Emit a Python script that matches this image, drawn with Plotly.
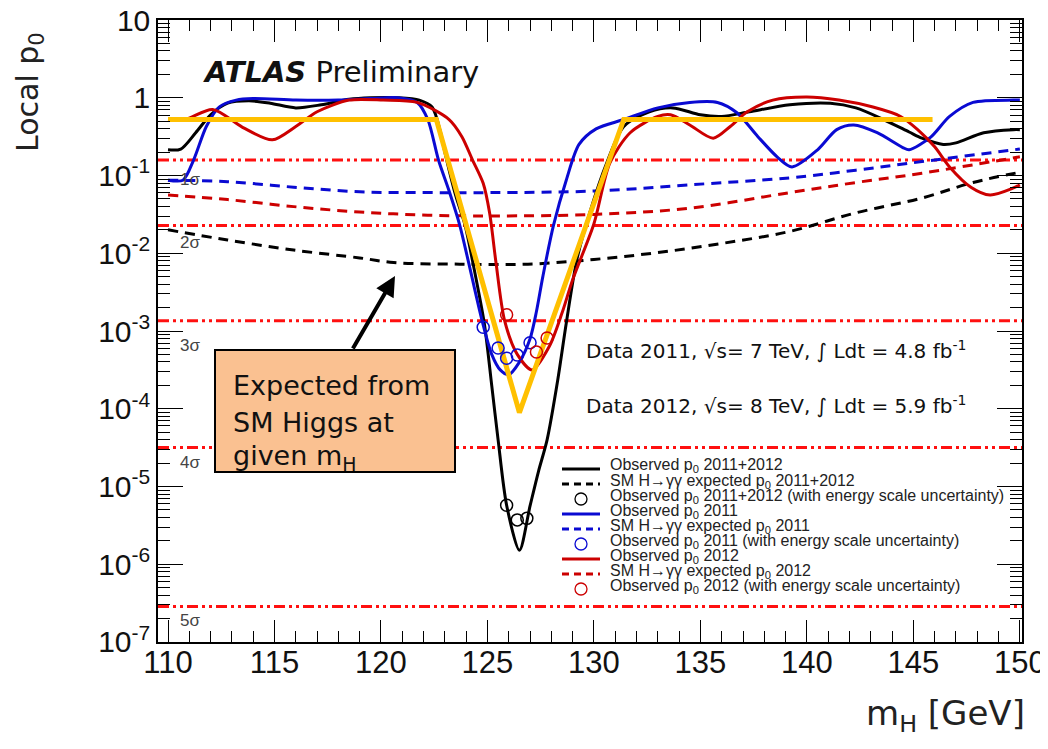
import plotly.graph_objects as go

# ---------------- data ----------------
mass_obs_comb = [110.0, 110.6, 111.3, 112.0, 112.8, 113.8, 114.8, 116.0, 117.2, 118.5, 119.5, 120.8,
                 121.8, 122.4, 122.8, 123.0, 123.5, 123.95, 124.3, 124.85, 125.2, 125.5, 125.9, 126.5,
                 127.0, 127.4, 127.8, 128.3, 128.7, 129.2, 129.8, 130.6, 131.4, 132.6, 133.7, 135.0,
                 136.0, 137.3, 139.2, 141.1, 142.3, 143.6, 144.8, 145.4, 146.4, 147.0, 148.3, 149.7, 150.0]
p0_obs_comb = [0.214, 0.219, 0.355, 0.603, 0.851, 0.912, 0.851, 0.741, 0.813, 0.955, 1.0, 1.0,
               0.933, 0.759, 0.355, 0.200, 0.0562, 0.0229, 7.94e-3, 1.26e-3, 2.0e-4, 3.98e-5, 5.75e-6, 1.51e-6,
               5.62e-6, 1.58e-5, 3.98e-5, 2.34e-4, 1.26e-3, 8.32e-3, 0.0331, 0.145, 0.427, 0.661, 0.741, 0.603,
               0.575, 0.661, 0.813, 0.851, 0.741, 0.525, 0.363, 0.302, 0.251, 0.263, 0.355, 0.389, 0.389]

mass_obs_2011 = [110.0, 110.7, 111.2, 111.8, 112.4, 113.2, 114.0, 116.0, 118.0, 119.5, 120.8, 121.7,
                 122.2, 122.7, 123.2, 123.7, 124.1, 124.75, 125.2, 125.6, 126.0, 126.5, 127.0, 127.3,
                 127.6, 128.1, 128.7, 129.3, 130.1, 131.4, 133.0, 134.5, 135.8, 136.7, 137.7, 138.6,
                 139.3, 140.5, 141.4, 142.2, 143.3, 144.5, 144.8, 145.8, 146.7, 147.8, 149.7, 150.0]
p0_obs_2011 = [0.0871, 0.0871, 0.158, 0.427, 0.759, 0.933, 0.977, 0.933, 0.933, 0.977, 1.0, 0.871,
               0.525, 0.158, 0.0631, 0.0229, 7.94e-3, 1.35e-3, 5.01e-4, 3.16e-4, 2.75e-4, 3.98e-4, 7.94e-4, 1.78e-3,
               5.01e-3, 0.0229, 0.0871, 0.251, 0.398, 0.525, 0.741, 0.871, 0.871, 0.646, 0.316, 0.174,
               0.129, 0.214, 0.389, 0.447, 0.355, 0.229, 0.214, 0.309, 0.575, 0.871, 0.933, 0.933]

mass_obs_2012 = [110.0, 110.8, 112.1, 113.5, 114.9, 116.0, 117.0, 118.5, 120.1, 121.7, 123.2, 123.8,
                 124.3, 124.8, 125.1, 125.4, 125.8, 126.4, 127.1, 127.9, 128.5, 129.0, 130.0, 130.75,
                 131.7, 133.0, 133.6, 134.5, 135.6, 136.4, 137.2, 138.4, 140.0, 141.5, 143.1, 144.4,
                 145.2, 146.0, 146.7, 147.7, 148.6, 149.7, 150.0]
p0_obs_2012 = [0.525, 0.525, 0.708, 0.417, 0.288, 0.427, 0.661, 0.933, 0.933, 0.871, 0.525, 0.316,
               0.158, 0.0794, 0.0331, 7.59e-3, 1.38e-3, 5.01e-4, 3.16e-4, 6.31e-4, 1.70e-3, 4.57e-3, 0.024, 0.145,
               0.355, 0.575, 0.603, 0.447, 0.302, 0.427, 0.661, 0.933, 1.02, 0.933, 0.759, 0.575,
               0.389, 0.234, 0.129, 0.0708, 0.0562, 0.0692, 0.0759]

mass_exp = [110.0, 112.8, 115.9, 119.0, 120.6, 123.7, 126.9, 130.0, 133.0, 136.1, 139.2, 142.3, 145.4, 147.8, 150.0]
p0_exp_comb = [0.0200, 0.0148, 0.0110, 8.71e-3, 7.59e-3, 7.24e-3, 7.24e-3, 8.32e-3, 0.0102, 0.0135,
               0.0191, 0.0331, 0.0513, 0.0813, 0.110]

mass_exp_y = [110.0, 112.8, 115.9, 119.0, 122.2, 125.3, 130.0, 134.5, 139.2, 142.3, 145.4, 150.0]
p0_exp_2011 = [0.0871, 0.0832, 0.0708, 0.0617, 0.0603, 0.0603, 0.0631, 0.0759, 0.0933, 0.117, 0.151, 0.219]
p0_exp_2012 = [0.0562, 0.0490, 0.0398, 0.0339, 0.0309, 0.0302, 0.0316, 0.0380, 0.0603, 0.0813, 0.107, 0.174]

mass_esu_comb = [125.9, 126.4, 126.85]
p0_esu_comb = [5.75e-6, 3.72e-6, 3.89e-6]
mass_esu_2011 = [124.8, 125.5, 125.9, 126.4, 127.0]
p0_esu_2011 = [1.12e-3, 6.03e-4, 4.47e-4, 4.90e-4, 7.08e-4]
mass_esu_2012 = [125.9, 127.3, 127.8]
p0_esu_2012 = [1.62e-3, 5.37e-4, 8.13e-4]

mass_sm_sketch = [110.0, 122.6, 126.5, 131.4, 145.9]
p0_sm_sketch = [0.525, 0.525, 8.9e-5, 0.525, 0.525]

sigma_labels = ["1σ", "2σ", "3σ", "4σ", "5σ"]
sigma_p0 = [0.1587, 0.02275, 1.35e-3, 3.17e-5, 2.87e-7]

x_ticks = [110, 115, 120, 125, 130, 135, 140, 145, 150]
y_exponents = [-7, -6, -5, -4, -3, -2, -1, 0, 1]

legend_labels = [
    "Observed p<sub>0</sub> 2011+2012",
    "SM H→γγ expected p<sub>0</sub> 2011+2012",
    "Observed p<sub>0</sub> 2011+2012 (with energy scale uncertainty)",
    "Observed p<sub>0</sub> 2011",
    "SM H→γγ expected p<sub>0</sub> 2011",
    "Observed p<sub>0</sub> 2011 (with energy scale uncertainty)",
    "Observed p<sub>0</sub> 2012",
    "SM H→γγ expected p<sub>0</sub> 2012",
    "Observed p<sub>0</sub> 2012 (with energy scale uncertainty)",
]

# ---------------- style ----------------
# page body has an 8px offset; the plot frame should land at x 158..1022, y 20..642 on screen
OFF = 8
W, H = 1048 - OFF, 749 - OFF
ML, MR, MT, MB = 158 - OFF, W - (1022 - OFF), 20 - OFF, H - (642 - OFF)
PW, PH = W - ML - MR, H - MT - MB
X_RANGE = [109.53, 150.1]
Y_RANGE = [-7.0002, 1.0002]
BLACK, BLUE, RED, SIGRED, YELLOW = "#000000", "#0a0ad2", "#cc0000", "#ff1010", "#ffc000"
FONT = "Liberation Sans, Arial, sans-serif"
WIDE = "DejaVu Sans, sans-serif"


def px(x):
    return (x - OFF - ML) / PW


def py(y):
    return (H - MB - (y - OFF)) / PH


fig = go.Figure()

# sigma reference lines
for p in sigma_p0:
    fig.add_trace(go.Scatter(x=X_RANGE, y=[p, p], mode="lines",
                             line=dict(color=SIGRED, width=3, dash="11px,4px,3px,4px,3px,4px"),
                             hoverinfo="skip", showlegend=False))

dash_exp = "10px,7px"
fig.add_trace(go.Scatter(x=mass_exp_y, y=p0_exp_2011, mode="lines",
                         line=dict(color=BLUE, width=3, dash=dash_exp, shape="spline"), showlegend=False))
fig.add_trace(go.Scatter(x=mass_exp_y, y=p0_exp_2012, mode="lines",
                         line=dict(color=RED, width=3, dash=dash_exp, shape="spline"), showlegend=False))
fig.add_trace(go.Scatter(x=mass_exp, y=p0_exp_comb, mode="lines",
                         line=dict(color=BLACK, width=3, dash=dash_exp, shape="spline"), showlegend=False))

fig.add_trace(go.Scatter(x=mass_obs_comb, y=p0_obs_comb, mode="lines",
                         line=dict(color=BLACK, width=3, shape="spline", smoothing=0.8), showlegend=False))
fig.add_trace(go.Scatter(x=mass_obs_2011, y=p0_obs_2011, mode="lines",
                         line=dict(color=BLUE, width=3, shape="spline", smoothing=0.8), showlegend=False))
fig.add_trace(go.Scatter(x=mass_obs_2012, y=p0_obs_2012, mode="lines",
                         line=dict(color=RED, width=3, shape="spline", smoothing=0.8), showlegend=False))

fig.add_trace(go.Scatter(x=mass_sm_sketch, y=p0_sm_sketch, mode="lines",
                         line=dict(color=YELLOW, width=5), showlegend=False))

for xs, ys, c in [(mass_esu_comb, p0_esu_comb, BLACK), (mass_esu_2011, p0_esu_2011, BLUE),
                  (mass_esu_2012, p0_esu_2012, RED)]:
    fig.add_trace(go.Scatter(x=xs, y=ys, mode="markers",
                             marker=dict(symbol="circle-open", size=12, color=c, line=dict(width=1.5, color=c)),
                             showlegend=False))

annotations = []
shapes = []


def note(x, y, text, size, color="#111111", family=FONT, xanchor="left", **kw):
    annotations.append(dict(x=px(x), y=py(y), xref="paper", yref="paper", text=text, showarrow=False,
                            xanchor=xanchor, yanchor="middle", borderpad=0,
                            font=dict(size=size, color=color, family=family), **kw))


# sigma labels
sig_label_y = [179, 242, 345, 462, 620]
for lab, yy in zip(sigma_labels, sig_label_y):
    note(190, yy, lab, 17, color="#444444", xanchor="center")

# ATLAS label
note(202, 72, "<b><i>ATLAS</i></b> Preliminary", 29, family=WIDE)

# data labels
note(585, 350, "Data 2011, √s= 7 TeV, ∫ Ldt = 4.8 fb<sup>-1</sup>", 20, family=WIDE)
note(585, 405, "Data 2012, √s= 8 TeV, ∫ Ldt = 5.9 fb<sup>-1</sup>", 20, family=WIDE)

# orange callout box
shapes.append(dict(type="rect", xref="paper", yref="paper", x0=px(215), x1=px(455), y0=py(472), y1=py(350),
                   fillcolor="#fac191", line=dict(color="black", width=2), layer="above"))
for txt, yy in [("Expected from", 385), ("SM Higgs at", 422), ("given m<sub>H</sub>", 457)]:
    note(232, yy, txt, 27, family=WIDE)

# arrow
annotations.append(dict(x=px(395), y=py(276), xref="paper", yref="paper", ax=-43, ay=74, text="",
                        showarrow=True, arrowhead=2, arrowsize=1, arrowwidth=4, arrowcolor="black"))

# manual legend
leg_styles = [
    ("line", BLACK, None), ("line", BLACK, "7px,5px"), ("circle", BLACK, None),
    ("line", BLUE, None), ("line", BLUE, "7px,5px"), ("circle", BLUE, None),
    ("line", RED, None), ("line", RED, "7px,5px"), ("circle", RED, None),
]
for i, (lab, (kind, col, dsh)) in enumerate(zip(legend_labels, leg_styles)):
    ys = 469 + 15 * i
    if kind == "line":
        shapes.append(dict(type="line", xref="paper", yref="paper", x0=px(562), x1=px(600), y0=py(ys), y1=py(ys),
                           line=dict(color=col, width=3, dash=dsh if dsh else "solid")))
    else:
        r = 6
        shapes.append(dict(type="circle", xref="paper", yref="paper", x0=px(581 - r), x1=px(581 + r),
                           y0=py(ys + r), y1=py(ys - r), line=dict(color=col, width=1.3)))
    note(609, ys - 3, lab, 16, color="#222222")

# axis titles
annotations.append(dict(x=px(30), y=py(92), xref="paper", yref="paper", text="Local p<sub>0</sub>",
                        textangle=-90, showarrow=False, xanchor="center", yanchor="middle",
                        font=dict(size=30, color="#222222", family=WIDE)))
note(1026, 715, "m<sub>H</sub> [GeV]", 34, color="#222222", family=WIDE, xanchor="right")

y_tickvals = [10.0 ** e for e in y_exponents]
y_ticktext = []
for e in y_exponents:
    if e == 0:
        y_ticktext.append("1")
    elif e == 1:
        y_ticktext.append("10")
    else:
        y_ticktext.append("10<sup>%d</sup>" % e)
y_minor = [m * 10.0 ** e for e in y_exponents[:-1] for m in range(2, 10)]

fig.update_xaxes(range=X_RANGE, tickvals=x_ticks, ticktext=[str(t) for t in x_ticks],
                 ticks="inside", ticklen=22, tickwidth=1.2, tickcolor="black", automargin=False,
                 ticklabelstandoff=-8, ticklabeloverflow="allow",
                 minor=dict(ticks="inside", ticklen=11, dtick=1, tick0=110, tickcolor="black", tickwidth=1),
                 showline=True, linecolor="black", linewidth=1.5, mirror="allticks",
                 showgrid=False, zeroline=False,
                 tickfont=dict(size=31, color="#111111", family=FONT))
fig.update_yaxes(type="log", range=Y_RANGE, tickvals=y_tickvals, ticktext=y_ticktext,
                 ticks="inside", ticklen=25, tickwidth=1.2, tickcolor="black", automargin=False,
                 ticklabeloverflow="allow",
                 minor=dict(ticks="inside", ticklen=12, tickvals=y_minor, tickcolor="black", tickwidth=1),
                 showline=True, linecolor="black", linewidth=1.5, mirror="allticks",
                 showgrid=False, zeroline=False,
                 tickfont=dict(size=30, color="#111111", family=FONT))

fig.update_layout(width=W, height=H, autosize=False,
                  margin=dict(l=ML, r=MR, t=MT, b=MB, autoexpand=False),
                  paper_bgcolor="white", plot_bgcolor="white",
                  showlegend=False, annotations=annotations, shapes=shapes,
                  font=dict(family=FONT))

fig.write_html("out.html")
